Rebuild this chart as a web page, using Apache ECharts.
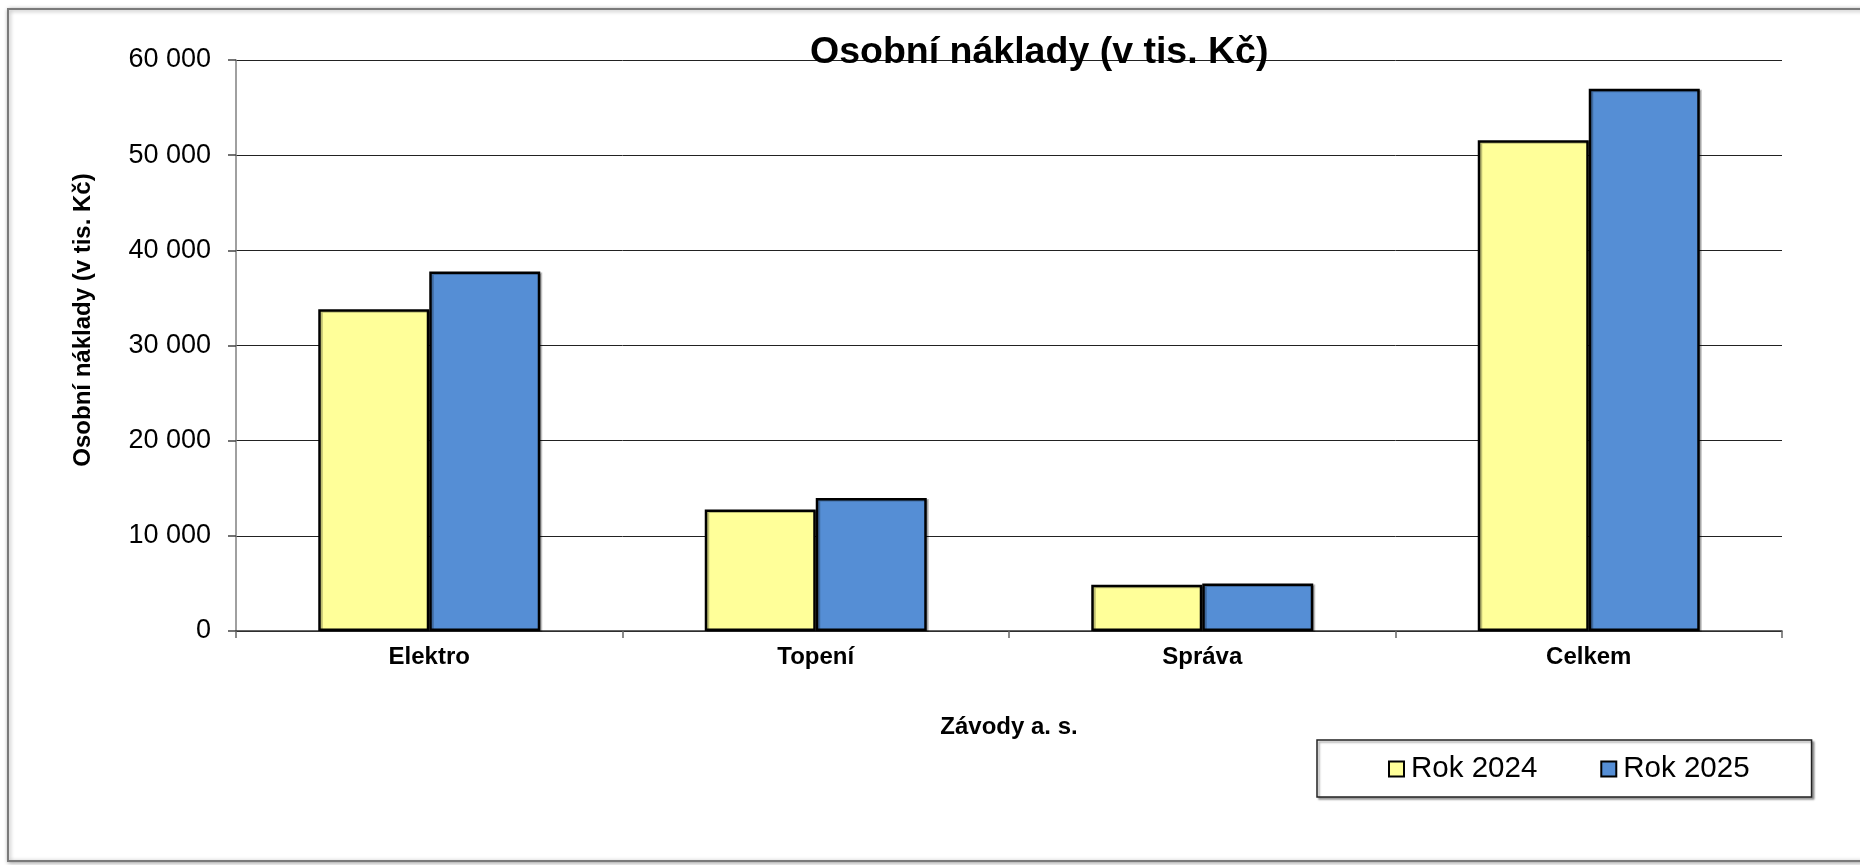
<!DOCTYPE html>
<html>
<head>
<meta charset="utf-8">
<title>Osobní náklady</title>
<script src="https://cdn.jsdelivr.net/npm/echarts@6/dist/echarts.min.js"></script>
<style>
  html, body { margin: 0; padding: 0; background: #fff; }
  #chart { width: 1860px; height: 865px; }
</style>
</head>
<body>
<div id="chart"></div>
<script>
// data
var categories = ["Elektro", "Topení", "Správa", "Celkem"];
var rok2024 = [33810, 12760, 4860, 51560];
var rok2025 = [37770, 13980, 5000, 56970];
var seriesNames = ["Rok 2024", "Rok 2025"];

var font = "'Liberation Sans', Arial, sans-serif";

function fmt(v) {
  return String(v).replace(/\B(?=(\d{3})+(?!\d))/g, " ");
}

var chart = echarts.init(document.getElementById("chart"));

chart.setOption({
  animation: false,
  backgroundColor: "#fff",
  title: {
    text: "Osobní náklady (v tis. Kč)",
    left: 810,
    top: 34,
    padding: 0,
    textStyle: {
      fontFamily: font,
      fontSize: 37.5,
      fontWeight: "bold",
      color: "#000"
    }
  },
  graphic: [
    {
      type: "rect",
      z: -10,
      shape: { x: 8, y: 9, width: 1900, height: 852 },
      style: {
        fill: "#fff",
        stroke: "#7a7a7a",
        lineWidth: 2,
        shadowColor: "rgba(0,0,0,0.35)",
        shadowBlur: 4,
        shadowOffsetX: 1,
        shadowOffsetY: 1
      }
    },
    {
      // y axis title, Excel places it a bit above the axis middle
      type: "text",
      x: 83,
      y: 320,
      rotation: Math.PI / 2,
      style: {
        text: "Osobní náklady (v tis. Kč)",
        font: "bold 24px " + font,
        fill: "#000",
        align: "center",
        verticalAlign: "middle"
      }
    }
  ],
  legend: {
    data: seriesNames,
    left: 1317,
    top: 740,
    padding: [14, 62, 13, 71],
    itemWidth: 15,
    itemHeight: 15,
    itemGap: 63,
    icon: "rect",
    backgroundColor: "#fff",
    borderColor: "#222",
    borderWidth: 1.5,
    shadowColor: "rgba(0,0,0,0.35)",
    shadowBlur: 2,
    shadowOffsetX: 2,
    shadowOffsetY: 2,
    textStyle: {
      fontFamily: font,
      fontSize: 29.5,
      color: "#000",
      padding: [0, 0, 0, 2]
    }
  },
  grid: {
    left: 236,
    right: 78,
    top: 60,
    bottom: 234
  },
  xAxis: {
    type: "category",
    data: categories,
    name: "Závody a. s.",
    nameLocation: "middle",
    nameGap: 84,
    nameTextStyle: {
      fontFamily: font,
      fontSize: 24,
      fontWeight: "bold",
      color: "#000"
    },
    axisLine: { lineStyle: { color: "#333", width: 1.5 } },
    axisTick: { show: true, length: 7, lineStyle: { color: "#666", width: 1.5 } },
    axisLabel: {
      margin: 14,
      fontFamily: font,
      fontSize: 24,
      fontWeight: "bold",
      color: "#000"
    }
  },
  yAxis: {
    type: "value",
    min: 0,
    max: 60000,
    interval: 10000,
    axisLine: { show: true, lineStyle: { color: "#808080", width: 1.5 } },
    axisTick: { show: true, length: 8, lineStyle: { color: "#444", width: 1.5 } },
    axisLabel: {
      margin: 25,
      fontFamily: font,
      fontSize: 27,
      color: "#000",
      formatter: fmt
    },
    splitLine: { lineStyle: { color: "#222", width: 1 } }
  },
  series: [
    {
      name: seriesNames[0],
      type: "bar",
      data: rok2024,
      barWidth: 111,
      barGap: "0%",
      itemStyle: {
        color: "#FFFF99",
        borderColor: "#000",
        borderWidth: 2.5,
        shadowColor: "rgba(0,0,0,0.25)",
        shadowOffsetX: 2,
        shadowOffsetY: 1
      }
    },
    {
      name: seriesNames[1],
      type: "bar",
      data: rok2025,
      barWidth: 111,
      barGap: "0%",
      itemStyle: {
        color: "#558ED5",
        borderColor: "#000",
        borderWidth: 2.5,
        shadowColor: "rgba(0,0,0,0.25)",
        shadowOffsetX: 2,
        shadowOffsetY: 1
      }
    }
  ]
});
</script>
</body>
</html>
